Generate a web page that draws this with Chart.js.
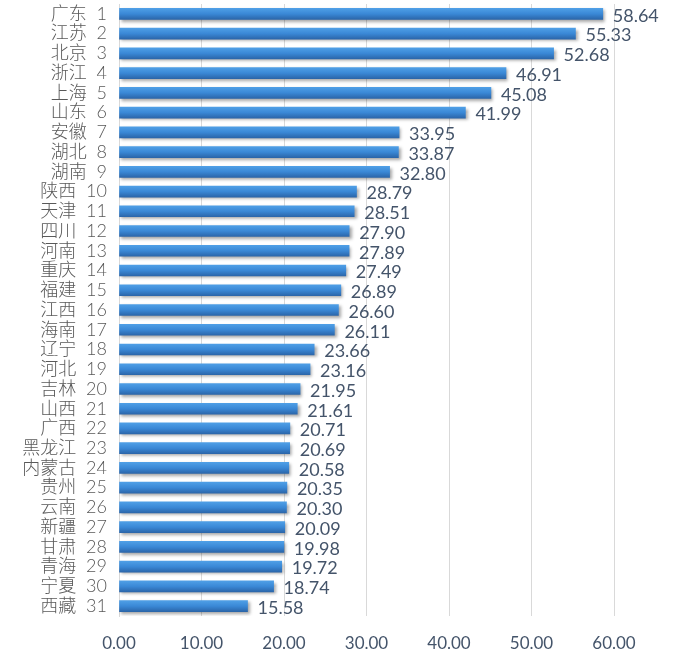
<!DOCTYPE html>
<html><head><meta charset="utf-8">
<script src="https://cdn.jsdelivr.net/npm/chart.js@4"></script>
<style>html,body{margin:0;padding:0;background:#fff;}#wrap{width:693px;height:662px;}</style>
</head><body><div id="wrap"><canvas id="c" width="693" height="662"></canvas></div>
<script>
const provinces = ["广东","江苏","北京","浙江","上海","山东","安徽","湖北","湖南","陕西","天津","四川","河南","重庆","福建","江西","海南","辽宁","河北","吉林","山西","广西","黑龙江","内蒙古","贵州","云南","新疆","甘肃","青海","宁夏","西藏"];
const ranks = [1,2,3,4,5,6,7,8,9,10,11,12,13,14,15,16,17,18,19,20,21,22,23,24,25,26,27,28,29,30,31];
const values = [58.64,55.33,52.68,46.91,45.08,41.99,33.95,33.87,32.80,28.79,28.51,27.90,27.89,27.49,26.89,26.60,26.11,23.66,23.16,21.95,21.61,20.71,20.69,20.58,20.35,20.30,20.09,19.98,19.72,18.74,15.58];
const xTicks = [0,10,20,30,40,50,60];

const categoryLabels = provinces.map((p,i)=>p+'  '+ranks[i]);
const BAR_T = 11;

const shadowPlugin = {
  id:'shadow',
  beforeDatasetDraw(chart){ const c=chart.ctx; c.save(); c.shadowColor='rgba(0,0,0,0.35)'; c.shadowOffsetX=2; c.shadowOffsetY=2; c.shadowBlur=3; },
  afterDatasetDraw(chart){ chart.ctx.restore(); }
};
const labelPlugin = {
  id:'vlabels',
  afterDatasetsDraw(chart){
    const c=chart.ctx; const meta=chart.getDatasetMeta(0);
    c.save(); c.font='18px Lato, "Noto Sans"'; c.fillStyle='#44546A'; c.textAlign='left'; c.textBaseline='middle';
    meta.data.forEach((el,i)=>{ c.fillText(values[i].toFixed(2), el.x+10, el.y+2); });
    c.restore();
  }
};

new Chart(document.getElementById('c'), {
  type:'bar',
  data:{ labels:categoryLabels, datasets:[{
    data:values,
    barThickness:BAR_T,
    borderWidth:0,
    backgroundColor(ctx){
      const chart=ctx.chart; const ys=chart.scales.y;
      if(!ys || ys.top===undefined) return '#3A86D4';
      const y=ys.getPixelForValue(ctx.dataIndex);
      const g=chart.ctx.createLinearGradient(0,y-BAR_T/2,0,y+BAR_T/2);
      g.addColorStop(0,'#4F9FE6'); g.addColorStop(0.5,'#3A88D6'); g.addColorStop(1,'#2B66AA');
      return g;
    }
  }]},
  options:{
    indexAxis:'y', responsive:false, animation:false, devicePixelRatio:1,
    layout:{padding:{top:4,right:79,left:0,bottom:0}},
    plugins:{legend:{display:false},tooltip:{enabled:false}},
    scales:{
      x:{min:0,max:60,
        afterBuildTicks(s){ s.ticks = xTicks.map(v=>({value:v})); },
        afterFit(s){ s.height=46; s.paddingLeft=0; s.paddingRight=0; },
        grid:{color:'#D9D9D9',drawTicks:false,lineWidth:1},
        border:{display:false},
        ticks:{padding:17,color:'#44546A',font:{family:'Lato, "Noto Sans"',size:17},callback:(v)=>Number(v).toFixed(2)}
      },
      y:{
        afterFit(s){ s.width=119; s.paddingTop=0; s.paddingBottom=0; },
        grid:{display:false,drawTicks:false},
        border:{display:true,color:'#D9D9D9'},
        ticks:{padding:12,color:'#595959',autoSkip:false,font:{family:'Lato, "Noto Sans CJK SC"',size:18,weight:'300'}}
      }
    }
  },
  plugins:[shadowPlugin,labelPlugin]
});
</script></body></html>
